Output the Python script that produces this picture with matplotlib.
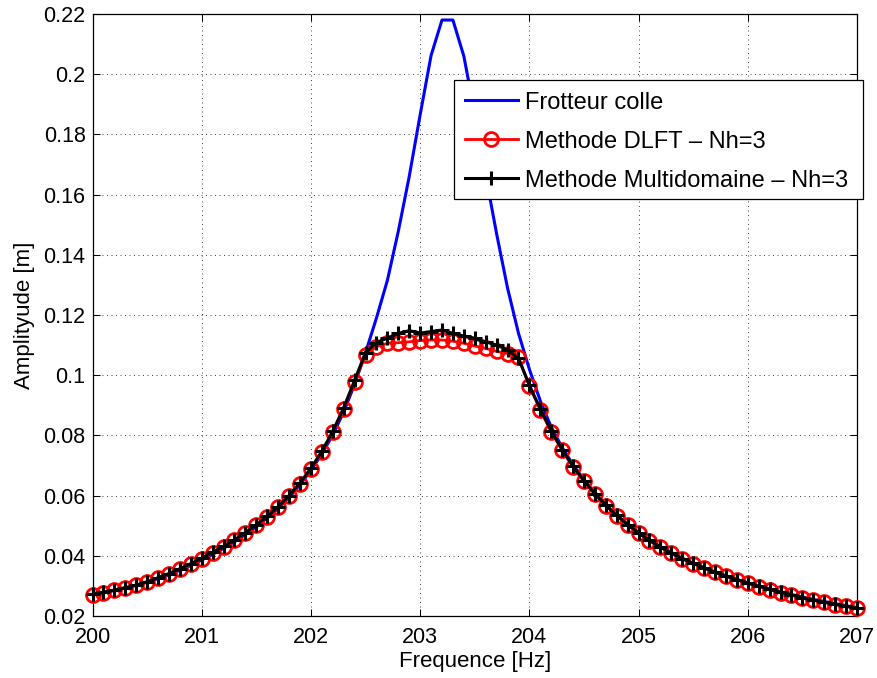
import numpy as np
import matplotlib
matplotlib.use("Agg")
import matplotlib.pyplot as plt
from matplotlib.patches import Rectangle

plt.rcParams['font.family'] = ['Liberation Sans', 'DejaVu Sans']

# Frequency samples (Hz), 0.1 Hz step
freq = np.round(np.linspace(200.0, 207.0, 71), 1)

# Frotteur colle (linear, stuck)
amp_colle = [
    0.0271, 0.0278, 0.0285, 0.0293, 0.0302, 0.0312, 0.0324, 0.0337, 0.0352, 0.0368,
    0.0386, 0.0405, 0.0425, 0.0447, 0.0471, 0.0497, 0.0526, 0.0558, 0.0594, 0.0636,
    0.0684, 0.0738, 0.0802, 0.0878, 0.0970, 0.1075, 0.1190, 0.1315, 0.1478, 0.1660,
    0.1865, 0.2062, 0.2180, 0.2180, 0.2060, 0.1870, 0.1665, 0.1470, 0.1290, 0.1140,
    0.1020, 0.0915, 0.0828, 0.0760, 0.0702, 0.0653, 0.0609, 0.0570, 0.0536, 0.0505,
    0.0478, 0.0453, 0.0431, 0.0411, 0.0392, 0.0375, 0.0360, 0.0346, 0.0333, 0.0321,
    0.0310, 0.0299, 0.0289, 0.0280, 0.0271, 0.0263, 0.0255, 0.0248, 0.0241, 0.0234,
    0.0228,
]

# Methode DLFT - Nh=3
amp_dlft = [
    0.0271, 0.0278, 0.0285, 0.0293, 0.0302, 0.0313, 0.0326, 0.0340, 0.0356, 0.0373,
    0.0391, 0.0410, 0.0430, 0.0452, 0.0476, 0.0502, 0.0530, 0.0561, 0.0598, 0.0640,
    0.0688, 0.0744, 0.0811, 0.0889, 0.0978, 0.1067, 0.1095, 0.1106, 0.1108, 0.1111,
    0.1115, 0.1117, 0.1117, 0.1113, 0.1106, 0.1097, 0.1089, 0.1079, 0.1072, 0.1060,
    0.0965, 0.0884, 0.0812, 0.0751, 0.0695, 0.0647, 0.0605, 0.0567, 0.0533, 0.0502,
    0.0475, 0.0450, 0.0428, 0.0408, 0.0390, 0.0374, 0.0359, 0.0345, 0.0332, 0.0320,
    0.0309, 0.0298, 0.0288, 0.0278, 0.0269, 0.0260, 0.0252, 0.0245, 0.0238, 0.0232,
    0.0226,
]

# Methode Multidomaine - Nh=3
amp_multi = [
    0.0272, 0.0279, 0.0286, 0.0294, 0.0303, 0.0314, 0.0327, 0.0341, 0.0357, 0.0374,
    0.0392, 0.0411, 0.0431, 0.0453, 0.0477, 0.0503, 0.0531, 0.0563, 0.0600, 0.0642,
    0.0691, 0.0747, 0.0814, 0.0892, 0.0983, 0.1075, 0.1108, 0.1123, 0.1139, 0.1148,
    0.1140, 0.1145, 0.1150, 0.1139, 0.1130, 0.1123, 0.1111, 0.1100, 0.1084, 0.1056,
    0.0967, 0.0888, 0.0815, 0.0753, 0.0697, 0.0649, 0.0606, 0.0568, 0.0534, 0.0503,
    0.0476, 0.0451, 0.0429, 0.0409, 0.0391, 0.0375, 0.0360, 0.0346, 0.0333, 0.0321,
    0.0310, 0.0299, 0.0289, 0.0279, 0.0270, 0.0261, 0.0253, 0.0246, 0.0239, 0.0232,
    0.0226,
]

xticks = [200, 201, 202, 203, 204, 205, 206, 207]
yticks = [0.02, 0.04, 0.06, 0.08, 0.10, 0.12, 0.14, 0.16, 0.18, 0.20, 0.22]
ytick_labels = ['0.02', '0.04', '0.06', '0.08', '0.1', '0.12', '0.14', '0.16', '0.18', '0.2', '0.22']
labels = ['Frotteur colle', 'Methode DLFT \u2013 Nh=3', 'Methode Multidomaine \u2013 Nh=3']

W, H = 878, 678
fig = plt.figure(figsize=(W / 100, H / 100), dpi=100)
ax = fig.add_axes([92.5 / W, 1 - 616 / H, (857 - 92.5) / W, (616 - 14) / H])

ax.plot(freq, amp_colle, color='#0000ff', lw=2.2, label=labels[0], zorder=3)
ax.plot(freq, amp_dlft, color='#ff0000', lw=2.0, marker='o', markersize=10,
        markerfacecolor='none', markeredgewidth=2.0, label=labels[1], zorder=4, clip_on=False)
ax.plot(freq, amp_multi, color='black', lw=2.2, marker='+', markersize=10,
        markeredgewidth=2.2, label=labels[2], zorder=5, clip_on=False)

ax.set_xlim(200, 207)
ax.set_ylim(0.02, 0.22)
ax.set_xticks(xticks)
ax.set_xticklabels([str(t) for t in xticks])
ax.set_yticks(yticks)
ax.set_yticklabels(ytick_labels)

ax.tick_params(direction='in', length=5, width=0.75, top=True, right=True,
               labelsize=15.5, colors='black')
ax.tick_params(axis='x', pad=8)
ax.tick_params(axis='y', pad=5)

ax.grid(True, color='0.3', linestyle=(0, (1, 3.5)), linewidth=0.72)
ax.set_axisbelow(True)
for s in ax.spines.values():
    s.set_linewidth(0.9)

ax.set_xlabel('Frequence [Hz]', fontsize=16, labelpad=2)
ax.set_ylabel('Amplityude [m]', fontsize=16, labelpad=6)

# legend box frame (pixel extents of the reference legend)
box = Rectangle((454 / W, 1 - 199 / H), (863 - 454) / W, (199 - 80) / H,
                transform=fig.transFigure, facecolor='white', edgecolor='black',
                linewidth=0.9, zorder=9, clip_on=False)
ax.add_artist(box)

leg = ax.legend(loc='upper left', bbox_to_anchor=(454 / W, 1 - 81 / H),
                bbox_transform=fig.transFigure, fontsize=17, frameon=False,
                borderpad=0.45, labelspacing=0.72, handlelength=2.25,
                handletextpad=0.3, borderaxespad=0)
leg.set_zorder(10)

fig.savefig('out.png', dpi=100)
